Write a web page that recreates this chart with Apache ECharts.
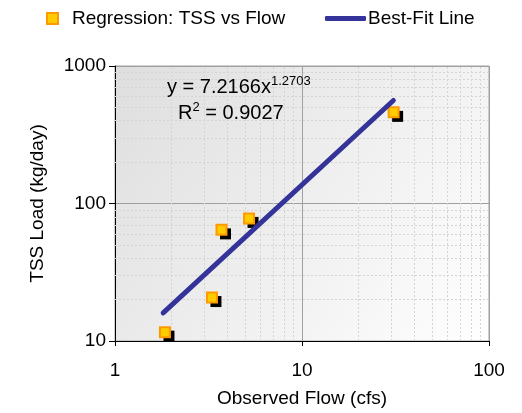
<!DOCTYPE html>
<html>
<head>
<meta charset="utf-8">
<script src="https://cdn.jsdelivr.net/npm/echarts@6/dist/echarts.min.js"></script>
<style>html,body{margin:0;padding:0;background:#fff;}#c{width:522px;height:413px;}</style>
</head>
<body>
<div id="c"></div>
<script>
const flowCfs = [1.85, 3.30, 3.71, 5.21, 30.9];
const tssLoad = [11.6, 20.7, 64.3, 77.9, 460];
// Best-fit line endpoints (y = 7.2166x^1.2703)
const fitFlow = [1.81, 30.8];
const fitTss = [16.0, 561];
// Minor gridline values
const minorFlow = [2, 3, 4, 5, 6, 7, 8, 9, 20, 30, 40, 50, 60, 70, 80, 90];
const minorTss = [20, 30, 40, 50, 60, 70, 80, 90, 200, 300, 400, 500, 600, 700, 800, 900];
const seriesNames = ['Regression: TSS vs Flow', 'Best-Fit Line'];
const equationText = 'y = 7.2166x';
const equationExp = '1.2703';
const r2Text = ' = 0.9027';

const FONT = 'Liberation Sans, Arial, sans-serif';
const FS = 19;
const chart = echarts.init(document.getElementById('c'), null, {renderer: 'canvas'});

const minorLines = minorFlow.map(v => ({xAxis: v})).concat(minorTss.map(v => ({yAxis: v})));
const points = flowCfs.map((f, i) => [f, tssLoad[i]]);

chart.setOption({
  animation: false,
  textStyle: {fontFamily: FONT},
  grid: {
    left: 115, right: 33, top: 66, bottom: 71,
    show: true,
    borderColor: '#a0a0a0', borderWidth: 1,
    backgroundColor: {type: 'linear', x: 0, y: 0, x2: 1, y2: 1,
      colorStops: [{offset: 0, color: '#dedede'}, {offset: 1, color: '#ffffff'}]}
  },
  legend: [{
    data: [{name: seriesNames[0], icon: 'rect'}],
    left: 41, top: 4, itemWidth: 11, itemHeight: 11,
    itemStyle: {shadowBlur: 0, shadowOffsetX: 0, shadowOffsetY: 0, shadowColor: 'rgba(0,0,0,0)'},
    textStyle: {fontSize: FS, color: '#000', fontFamily: FONT, padding: [0, 0, 0, 9]}
  }, {
    data: [{name: seriesNames[1], icon: 'roundRect'}],
    left: 320, top: 4, itemWidth: 41, itemHeight: 5,
    textStyle: {fontSize: FS, color: '#000', fontFamily: FONT, padding: [0, 0, 0, -3]}
  }],
  xAxis: {
    type: 'log', logBase: 10, min: 1, max: 100,
    name: 'Observed Flow (cfs)', nameLocation: 'middle', nameGap: 48,
    nameTextStyle: {fontSize: FS, color: '#000', fontFamily: FONT},
    axisLine: {lineStyle: {color: '#000', width: 1}},
    axisTick: {show: true, length: 5, inside: false, lineStyle: {color: '#000'}},
    axisLabel: {fontSize: FS, color: '#000', margin: 20, fontFamily: FONT,
      formatter: v => String(Math.round(v))},
    splitLine: {show: true, lineStyle: {color: '#a0a0a0', width: 1}}
  },
  yAxis: {
    type: 'log', logBase: 10, min: 10, max: 1000,
    name: 'TSS Load (kg/day)', nameLocation: 'middle', nameGap: 68, nameRotate: 90,
    nameTextStyle: {fontSize: FS, color: '#000', fontFamily: FONT},
    axisLine: {lineStyle: {color: '#000', width: 1}},
    axisTick: {show: true, length: 6, inside: false, lineStyle: {color: '#000'}},
    axisLabel: {fontSize: FS, color: '#000', margin: 9, fontFamily: FONT,
      formatter: v => String(Math.round(v))},
    splitLine: {show: true, lineStyle: {color: '#a0a0a0', width: 1}}
  },
  series: [{
    name: 'minor', type: 'line', data: [], z: 1, silent: true,
    markLine: {
      z: 1, silent: true, symbol: 'none', label: {show: false},
      lineStyle: {color: '#d4d4d4', type: [2, 2], width: 1},
      emphasis: {disabled: true},
      data: minorLines
    }
  }, {
    name: 'shadow', type: 'scatter', symbol: 'rect', symbolSize: 11, z: 2, silent: true,
    symbolOffset: [4, 4],
    data: points,
    itemStyle: {color: '#000', opacity: 1}
  }, {
    name: seriesNames[0], type: 'scatter', symbol: 'rect', symbolSize: 10, z: 3,
    data: points,
    itemStyle: {color: '#ffcc00', borderColor: '#ff9900', borderWidth: 2, opacity: 1}
  }, {
    name: seriesNames[1], type: 'line', showSymbol: false, symbol: 'none', z: 4,
    data: fitFlow.map((f, i) => [f, fitTss[i]]),
    lineStyle: {color: '#333399', width: 5, cap: 'round'},
    itemStyle: {color: '#333399'}
  }],
  graphic: [{
    type: 'text', left: 167, top: 75, z: 10,
    style: {
      text: '{a|' + equationText + '}{b|' + equationExp + '}',
      rich: {
        a: {fontSize: 20, fontFamily: FONT, fill: '#000', lineHeight: 22, verticalAlign: 'bottom'},
        b: {fontSize: 13, fontFamily: FONT, fill: '#000', verticalAlign: 'top'}
      }
    }
  }, {
    type: 'text', left: 178, top: 101, z: 10,
    style: {
      text: '{a|R}{b|2}{a|' + r2Text + '}',
      rich: {
        a: {fontSize: 20, fontFamily: FONT, fill: '#000', lineHeight: 22, verticalAlign: 'bottom'},
        b: {fontSize: 13, fontFamily: FONT, fill: '#000', verticalAlign: 'top'}
      }
    }
  }]
});
</script>
</body>
</html>
